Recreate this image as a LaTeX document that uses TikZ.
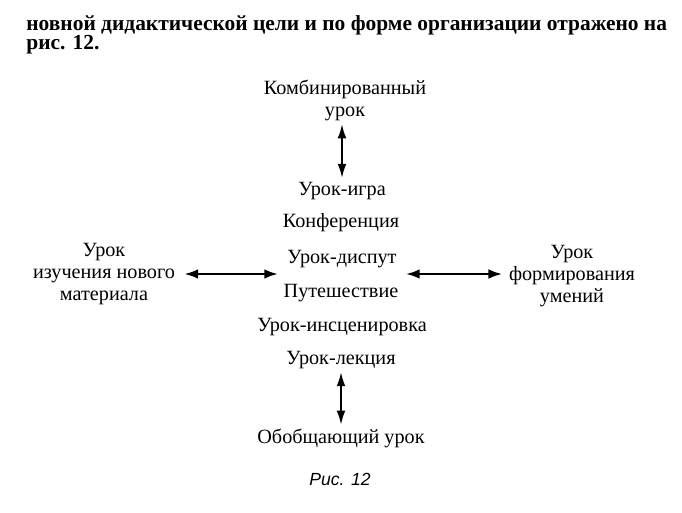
\documentclass[tikz,border=0pt]{standalone}
\usepackage{fontspec}
\setmainfont{Liberation Serif}
\newfontfamily\capfont{Liberation Sans}
\usetikzlibrary{arrows.meta}

\tikzset{
	lbl/.style={font=\fontsize{11.5}{12.5}\selectfont, align=center, inner sep=2pt},
	hdr/.style={font=\fontsize{12.2}{14}\selectfont\bfseries, inner sep=0pt, anchor=base west},
	dbl/.style={{Latex[length=8pt,width=5.5pt]}-{Latex[length=8pt,width=5.5pt]}, line width=1.5pt},
	dblv/.style={{Latex[length=8pt,width=5pt]}-{Latex[length=8pt,width=5pt]}, line width=0.95pt}
}

\begin{document}
\begin{tikzpicture}[x=0.02cm,y=-0.02cm]
	
	\useasboundingbox[fill=white] (0,0) rectangle (682,513);
	
	% text above the figure
	\node[hdr] (line1) at (26,31) {новной дидактической цели и по форме организации отражено на};
	\node[hdr] (line2) at (26,50) {рис. 12.};
	
	% middle column
	\node[lbl] (combo) at (345,100) {Комбинированный\\урок};
	\node[lbl, anchor=base] (game) at (342,195) {Урок-игра};
	\node[lbl, anchor=base] (conf) at (341,227) {Конференция};
	\node[lbl, anchor=base, inner xsep=5pt] (disp) at (342,263) {Урок-диспут};
	\node[lbl, anchor=base] (trip) at (341,297) {Путешествие};
	\node[lbl, anchor=base] (stage) at (342,331) {Урок-инсценировка};
	\node[lbl, anchor=base] (lect) at (341,364) {Урок-лекция};
	\node[lbl, anchor=base] (gen) at (341,443) {Обобщающий урок};
	
	% side blocks
	\node[lbl, inner xsep=5pt] (newm) at (104,274) {Урок\\изучения нового\\материала};
	\node[lbl, inner xsep=3.5pt] (skill) at (572,276) {Урок\\формирования\\умений};
	
	\node[font=\capfont\itshape\fontsize{10}{12}\selectfont, anchor=base] (cap) at (340,485) {Рис. 12};
	
	% arrows
	\draw[dblv] (game.north) -- (game.north |- combo.south);
	\draw[dblv] (lect.south) -- (lect.south |- gen.north);
	\draw[dbl] (newm.east) -- (newm.east -| disp.west);
	\draw[dbl] (disp.east |- newm.east) -- (skill.west |- newm.east);
	
\end{tikzpicture}
\end{document}
